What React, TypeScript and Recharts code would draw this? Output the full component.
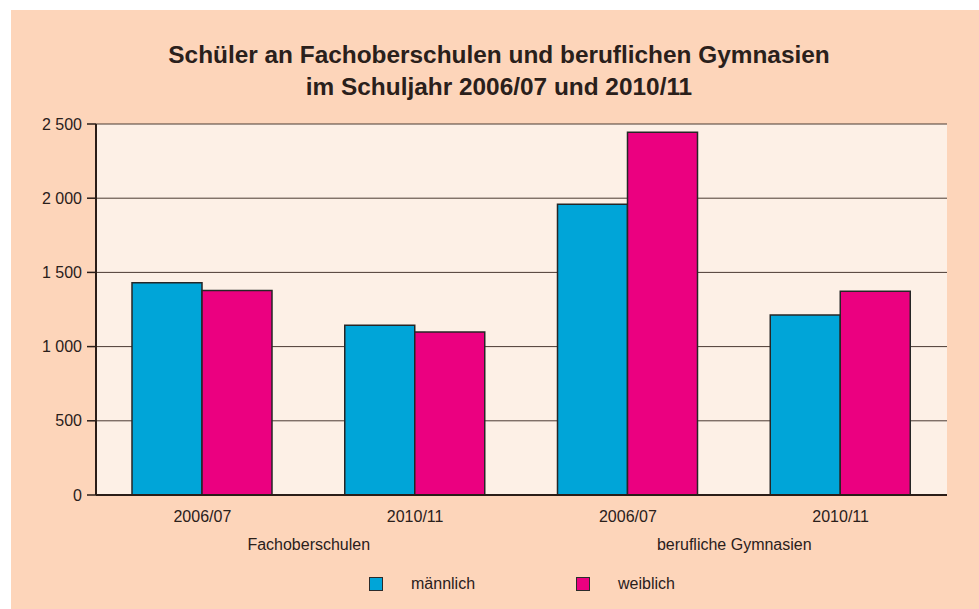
import { BarChart, Bar, XAxis, YAxis, CartesianGrid, Legend } from "recharts";

const years = ["2006/07", "2010/11", "2006/07", "2010/11"];
const groups = ["Fachoberschulen", "Fachoberschulen", "berufliche Gymnasien", "berufliche Gymnasien"];
const maennlich = [1430, 1144, 1959, 1213];
const weiblich = [1378, 1099, 2444, 1373];
const yTicks = [0, 500, 1000, 1500, 2000, 2500];

const PEACH = "#FDD5BA";
const PLOT_BG = "#FDF0E6";
const CYAN = "#00A5D8";
const MAGENTA = "#EB0080";
const INK = "#2a201b";
const FONT = "'Liberation Sans', Arial, sans-serif";

const data = years.map((year, i) => ({
  key: i,
  year,
  group: groups[i],
  maennlich: maennlich[i],
  weiblich: weiblich[i],
}));

const formatTick = (v: number) => (v >= 1000 ? `${Math.floor(v / 1000)} ${String(v % 1000).padStart(3, "0")}` : String(v));

const YearTick = ({ x, y, payload }: any) => (
  <text x={x} y={y} dy="0.71em" textAnchor="middle" fontSize={16} fill={INK} fontFamily={FONT}>
    {years[payload.value]}
  </text>
);

const renderLegend = () => (
  <div style={{ position: "relative", width: 968, height: 24, fontFamily: FONT, fontSize: 16, color: INK }}>
    {[
      { label: "männlich", color: CYAN, left: 358 },
      { label: "weiblich", color: MAGENTA, left: 565 },
    ].map((item) => (
      <div key={item.label}>
        <span
          style={{
            position: "absolute",
            left: item.left,
            top: 0,
            width: 12,
            height: 12,
            background: item.color,
            border: "1.5px solid #2b2b2b",
          }}
        />
        <span style={{ position: "absolute", left: item.left + 42, top: -2, lineHeight: "18px" }}>{item.label}</span>
      </div>
    ))}
  </div>
);

export default function App() {
  return (
    <div style={{ position: "absolute", left: 0, top: 0, width: 979, height: 609, background: "#fff" }}>
      <div style={{ position: "absolute", left: 11, top: 10, width: 968, height: 599, background: PEACH }}>
        <div
          style={{
            position: "absolute",
            left: 0,
            top: 29,
            width: 976,
            textAlign: "center",
            fontFamily: FONT,
            fontWeight: "bold",
            fontSize: 24.4,
            lineHeight: "32px",
            color: INK,
          }}
        >
          Schüler an Fachoberschulen und beruflichen Gymnasien
          <br />
          im Schuljahr 2006/07 und 2010/11
        </div>
        <BarChart
          width={968}
          height={599}
          data={data}
          margin={{ top: 114, right: 32, bottom: 20, left: 0 }}
          barCategoryGap={36}
          barGap={0}
        >
          <CartesianGrid fill={PLOT_BG} vertical={false} stroke="#4a3a32" strokeOpacity={1} />
          <XAxis
            dataKey="key"
            height={30}
            tick={<YearTick />}
            tickLine={false}
            tickSize={0}
            tickMargin={16}
            axisLine={{ stroke: "#2a1d17", strokeWidth: 2 }}
          />
          <XAxis
            xAxisId="group"
            dataKey="group"
            allowDuplicatedCategory={false}
            height={40}
            tickLine={false}
            axisLine={false}
            tickSize={0}
            tickMargin={14}
            tick={{ fontSize: 16, fill: INK, fontFamily: FONT }}
          />
          <YAxis
            width={85}
            domain={[0, 2500]}
            ticks={yTicks}
            tickFormatter={formatTick}
            tickSize={9}
            tickMargin={5}
            axisLine={{ stroke: "#2a1d17", strokeWidth: 2 }}
            tickLine={{ stroke: "#2a1d17", strokeWidth: 1.5 }}
            tick={{ fontSize: 16, fill: INK, fontFamily: FONT }}
          />
          <YAxis
            yAxisId="right"
            orientation="right"
            width={0}
            domain={[0, 2500]}
            tick={false}
            tickLine={false}
            axisLine={{ stroke: "#2a1d17", strokeWidth: 2 }}
          />
          <Bar dataKey="maennlich" name="männlich" fill={CYAN} stroke="#262626" strokeWidth={1.5} isAnimationActive={false} />
          <Bar dataKey="weiblich" name="weiblich" fill={MAGENTA} stroke="#262626" strokeWidth={1.5} isAnimationActive={false} />
          <Legend
            content={renderLegend}
            wrapperStyle={{ position: "absolute", left: 0, top: 567, width: 968 }}
          />
        </BarChart>
      </div>
    </div>
  );
}
